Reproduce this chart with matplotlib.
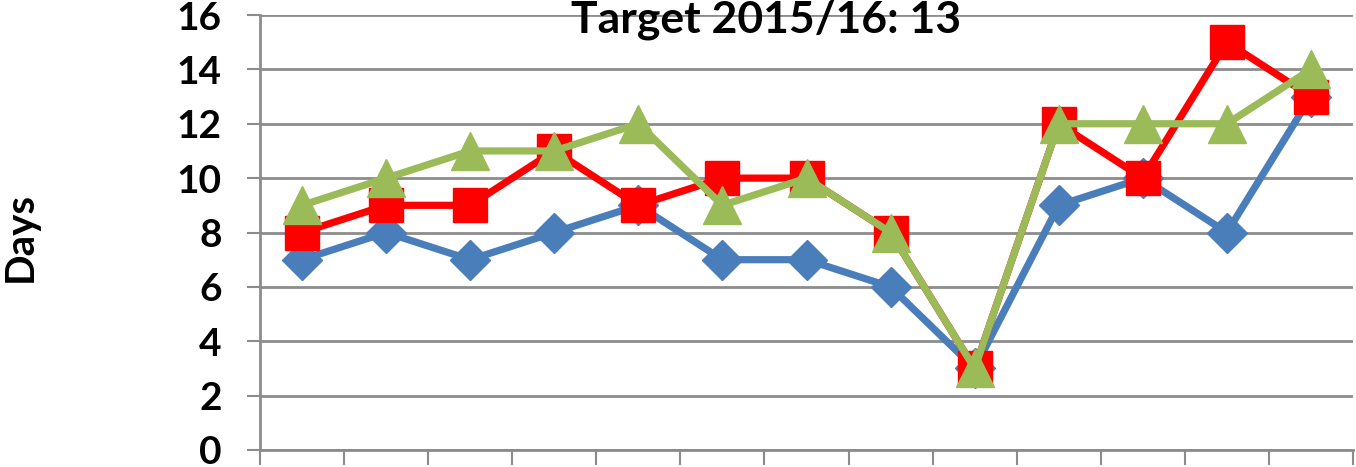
import matplotlib
matplotlib.use("Agg")
import matplotlib.pyplot as plt
import numpy as np

categories = list(range(1, 14))
blue_vals = [7, 8, 7, 8, 9, 7, 7, 6, 3, 9, 10, 8, 13]
red_vals = [8, 9, 9, 11, 9, 10, 10, 8, 3, 12, 10, 15, 13]
green_vals = [9, 10, 11, 11, 12, 9, 10, 8, 3, 12, 12, 12, 14]
y_ticks = [0, 2, 4, 6, 8, 10, 12, 14, 16]
title_text = "Target 2015/16: 13"
ylabel_text = "Days"

W, H = 1356, 467
fig = plt.figure(figsize=(W / 100, H / 100), dpi=100)
ax = fig.add_axes([260 / W, (H - 450) / H, (1353 - 260) / W, (450 - 15) / H])

x = np.arange(len(categories))
grid_c = "#8c8c8c"
ax.plot(x, blue_vals, color="#4a7ebb", lw=5.2, marker="D", ms=20, zorder=3)
ax.plot(x, red_vals, color="#ff0000", lw=5.2, marker="s", ms=24, zorder=4)
ax.plot(x, green_vals, color="#9bbb59", lw=5.2, marker="^", ms=27, zorder=5)

ax.set_xlim(-0.5, len(categories) - 0.5)
ax.set_ylim(0, 16)
ax.set_yticks(y_ticks)
ax.set_xticks(np.arange(-0.5, len(categories)))
ax.set_xticklabels([])
ax.yaxis.grid(True, color=grid_c, lw=2)
ax.set_axisbelow(True)
for s in ["top", "right"]:
    ax.spines[s].set_visible(False)
for s in ["left", "bottom"]:
    ax.spines[s].set_color(grid_c)
    ax.spines[s].set_linewidth(2)
ax.tick_params(axis="y", length=9.5, width=1.5, color=grid_c, pad=18, labelsize=28)
ax.tick_params(axis="x", length=11, width=1.5, color=grid_c)
for lab in ax.get_yticklabels():
    lab.set_fontweight("bold")
    lab.set_family("Lato")

fig.text(766 / W, 1 - 33 / H, title_text, ha="center", va="baseline",
         fontsize=32, fontweight="bold", family="Lato")
fig.text(20 / W, 1 - 237 / H, ylabel_text, ha="center", va="center",
         rotation=90, fontsize=29, fontweight="bold", family="Lato")

fig.savefig("out.png", dpi=100)
